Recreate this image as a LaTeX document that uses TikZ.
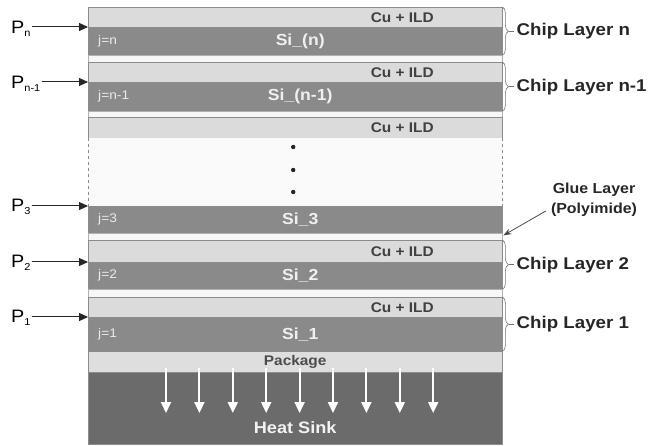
\documentclass[tikz,border=0pt]{standalone}
\usepackage{fontspec}
\setmainfont[FakeStretch=1.1]{Liberation Sans}
\usetikzlibrary{arrows.meta,decorations.pathreplacing}

\begin{document}
\begin{tikzpicture}[
  x=1pt, y=-1pt,
  layer/.style={draw=black!45, anchor=north west, minimum width=414, inner sep=0},
  cu/.style={layer, fill=black!14},
  si/.style={layer, fill=black!46, text=black!6,
    font=\bfseries\fontsize{16}{16}\selectfont},
  glue/.style={layer, draw=black!30, fill=black!3},
  cutext/.style={text=black!75, inner sep=0, font=\bfseries\fontsize{14}{14}\selectfont},
  jtext/.style={anchor=west, inner sep=0, text=black!8, font=\fontsize{12.5}{12.5}\selectfont},
  plabel/.style={anchor=base west, inner sep=1pt, font=\fontsize{18}{18}\selectfont},
  parrow/.style={-{Triangle[length=9pt,width=8pt]}, line width=1pt, black!85},
  chipbrace/.style={decorate, decoration={brace, amplitude=6pt}, draw=black!55, line width=0.6pt},
  chiptext/.style={anchor=west, xshift=14pt, inner sep=0, text=black!85,
    font=\bfseries\fontsize{17}{17}\selectfont},
  heat/.style={-{Triangle[length=11pt,width=10pt]}, line width=2pt, white}]

\useasboundingbox (0,0) rectangle (648,446);

% chip layer n
\node[cu, minimum height=20] (cun) at (88,7) {};
\node[si, minimum height=28] (sin) at (88,27) {\hspace{10pt}Si\_(n)};
\node[glue, minimum height=7] (gluen) at (88,55) {};
% chip layer n-1
\node[cu, minimum height=20] (cunm) at (88,62) {};
\node[si, minimum height=29] (sinm) at (88,82) {\hspace{10pt}Si\_(n-1)};
\node[glue, minimum height=6] (gluenm) at (88,111) {};
% chip layer 3 with the layers left out
\node[cu, minimum height=21] (cuthree) at (88,117) {};
\node[layer, draw=none, fill=black!2, minimum height=68] (gap) at (88,138) {};
\node[si, minimum height=27] (sithree) at (88,206) {\hspace{10pt}Si\_3};
\node[glue, minimum height=7] (gluethree) at (88,233) {};
% chip layer 2
\node[cu, minimum height=22] (cutwo) at (88,240) {};
\node[si, minimum height=27] (sitwo) at (88,262) {\hspace{10pt}Si\_2};
\node[glue, minimum height=8] (gluetwo) at (88,289) {};
% chip layer 1
\node[cu, minimum height=20] (cuone) at (88,297) {};
\node[si, minimum height=34] (sione) at (88,317) {\hspace{10pt}Si\_1};
% package and heat sink
\node[layer, fill=black!13, minimum height=21, text=black!70,
  font=\bfseries\fontsize{14}{14}\selectfont] (pkg) at (88,351) {Package};
\node[layer, fill=black!58, minimum height=72] (sink) at (88,372) {};

\draw[black!45, dashed] (gap.north west) -- (gap.south west);
\draw[black!45, dashed] (gap.north east) -- (gap.south east);
\foreach \d in {9,32,54}
  \fill[black!85] ([yshift=-\d pt]gap.north) ++(-2,0) circle (2.2);

% Cu + ILD
\node[cutext] (cuntxt) at ([xshift=107pt]cun.center) {Cu + ILD};
\node[cutext] (cunmtxt) at ([xshift=107pt]cunm.center) {Cu + ILD};
\node[cutext] (cuthreetxt) at ([xshift=107pt]cuthree.center) {Cu + ILD};
\node[cutext] (cutwotxt) at ([xshift=107pt]cutwo.center) {Cu + ILD};
\node[cutext] (cuonetxt) at ([xshift=107pt]cuone.center) {Cu + ILD};

% j
\node[jtext] (jn) at ([xshift=10pt]sin.west) {j=n};
\node[jtext] (jnm) at ([xshift=10pt]sinm.west) {j=n-1};
\node[jtext] (jthree) at ([xshift=10pt]sithree.west) {j=3};
\node[jtext] (jtwo) at ([xshift=10pt]sitwo.west) {j=2};
\node[jtext] (jone) at ([xshift=10pt]sione.west) {j=1};

% power inputs
\node[plabel] (pn) at (10,34) {P\raisebox{-3pt}{\fontsize{10}{10}\selectfont n}};
\node[plabel] (pnm) at (10,89) {P\raisebox{-3pt}{\fontsize{10}{10}\selectfont n-1}};
\node[plabel] (pthree) at (10,212) {P\raisebox{-3pt}{\fontsize{10}{10}\selectfont 3}};
\node[plabel] (ptwo) at (10,268) {P\raisebox{-3pt}{\fontsize{10}{10}\selectfont 2}};
\node[plabel] (pone) at (10,323) {P\raisebox{-3pt}{\fontsize{10}{10}\selectfont 1}};
\draw[parrow] (pn.east |- sin.north west) -- (sin.north west);
\draw[parrow] (pnm.east |- sinm.north west) -- (sinm.north west);
\draw[parrow] (pthree.east |- sithree.north west) -- (sithree.north west);
\draw[parrow] (ptwo.east |- sitwo.north west) -- (sitwo.north west);
\draw[parrow] (pone.east |- sione.north west) -- (sione.north west);

% chip layers
\draw[chipbrace] (cun.north east) -- node[chiptext] (chipn) {Chip Layer n} (sin.south east);
\draw[chipbrace] (cunm.north east) -- node[chiptext] (chipnm) {Chip Layer n-1} (sinm.south east);
\draw[chipbrace] (cutwo.north east) -- node[chiptext] (chiptwo) {Chip Layer 2} (sitwo.south east);
\draw[chipbrace] (cuone.north east) -- node[chiptext] (chipone) {Chip Layer 1} (sione.south east);
\foreach \c in {chipn,chipnm,chiptwo,chipone}
  \draw[black!55, line width=0.6pt] ([xshift=-7pt]\c.west) -- ([xshift=-2pt]\c.west);

% glue layer
\node[align=center, inner sep=0, text=black!85, font=\bfseries\fontsize{14.5}{20}\selectfont]
  (gluelbl) at (594,200) {Glue Layer\\(Polyimide)};
\draw[-{Stealth[length=8pt,width=6pt]}, black!70, line width=0.8pt]
  ([shift={(-5,11)}]gluelbl.west) -- ([shift={(1,2)}]sithree.south east);

% heat flow
\foreach \x in {78,111.4,...,346}
  \draw[heat] ([xshift=\x pt, yshift=4pt]sink.north west) -- ++(0,45);
\node[text=black!5, inner sep=0, font=\bfseries\fontsize{16.5}{16.5}\selectfont]
  (sinktxt) at ([yshift=17pt]sink.south) {Heat Sink};
\end{tikzpicture}
\end{document}
